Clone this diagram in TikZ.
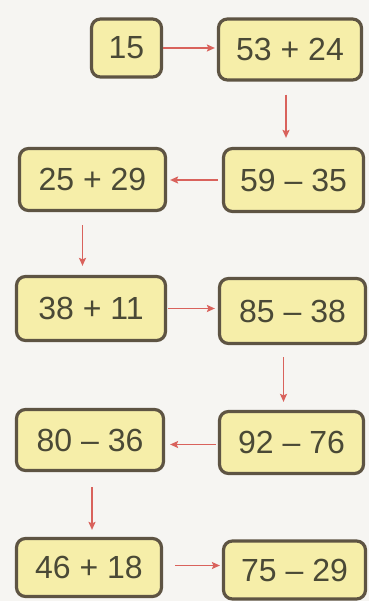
\documentclass[tikz,border=0pt]{standalone}
\usepackage{fontspec}
\setmainfont{Liberation Sans}
\usetikzlibrary{arrows.meta}
\definecolor{boxfill}{HTML}{F6EEA9}
\definecolor{boxline}{HTML}{5E5443}
\definecolor{arr}{HTML}{D9625C}
\definecolor{txt}{HTML}{4A4936}
\definecolor{bg}{HTML}{F6F5F2}
\tikzset{
  numbox/.style={draw=boxline, line width=3.2pt, fill=boxfill, rounded corners=9pt,
    text=txt, font=\fontsize{32}{36}\selectfont, inner sep=0pt, anchor=center},
  flow/.style={draw=arr, line width=1.7pt, -{Stealth[length=8pt,width=7pt,inset=1.5pt]}}
}
\begin{document}
\begin{tikzpicture}[x=1pt,y=-1pt]
\fill[bg] (0,0) rectangle (369,601);
\useasboundingbox (0,0) rectangle (369,601);
\node[numbox, minimum width=70pt, minimum height=58pt] (a) at (126.5,48) {15};
\node[numbox, minimum width=143pt, minimum height=61pt] (b) at (290,49.5) {53 + 24};
\node[numbox, minimum width=146pt, minimum height=62pt] (d) at (92.5,179.5) {25 + 29};
\node[numbox, minimum width=140pt, minimum height=63pt] (c) at (293.5,180) {59 – 35};
\node[numbox, minimum width=149pt, minimum height=64pt] (e) at (91,308.5) {38 + 11};
\node[numbox, minimum width=146pt, minimum height=65pt] (f) at (292.5,311) {85 – 38};
\node[numbox, minimum width=147pt, minimum height=61pt] (h) at (90,440) {80 – 36};
\node[numbox, minimum width=144pt, minimum height=62pt] (g) at (291.5,442.5) {92 – 76};
\node[numbox, minimum width=145pt, minimum height=58pt] (i) at (89,567.5) {46 + 18};
\node[numbox, minimum width=142pt, minimum height=58pt] (j) at (294.5,570) {75 – 29};

\draw[flow, shorten >=2pt] (a.east) -- (b.west |- a.east);
\draw[flow, shorten <=13pt, shorten >=9pt] ([xshift=-4pt]b.south) -- ([xshift=-4pt]b.south |- c.north);
\draw[flow, shorten <=4pt, shorten >=3pt] (c.west) -- (d.east |- c.west);
\draw[flow, shorten <=13pt, shorten >=9pt] ([xshift=-10pt]d.south) -- ([xshift=-10pt]d.south |- e.north);
\draw[flow, shorten <=1pt, shorten >=3pt] (e.east) -- (f.west |- e.east);
\draw[flow, shorten <=12pt, shorten >=8pt] ([xshift=-9pt]f.south) -- ([xshift=-9pt]f.south |- g.north);
\draw[flow, shorten <=2pt, shorten >=5pt] ([yshift=-2pt]g.west) -- ([yshift=-2pt]h.east |- g.west);
\draw[flow, shorten <=15pt, shorten >=7pt] ([xshift=2pt]h.south) -- ([xshift=2pt]h.south |- i.north);
\draw[flow, shorten <=12pt, shorten >=2pt] ([yshift=2pt]i.east) -- ([yshift=2pt]j.west |- i.east);
\end{tikzpicture}
\end{document}
